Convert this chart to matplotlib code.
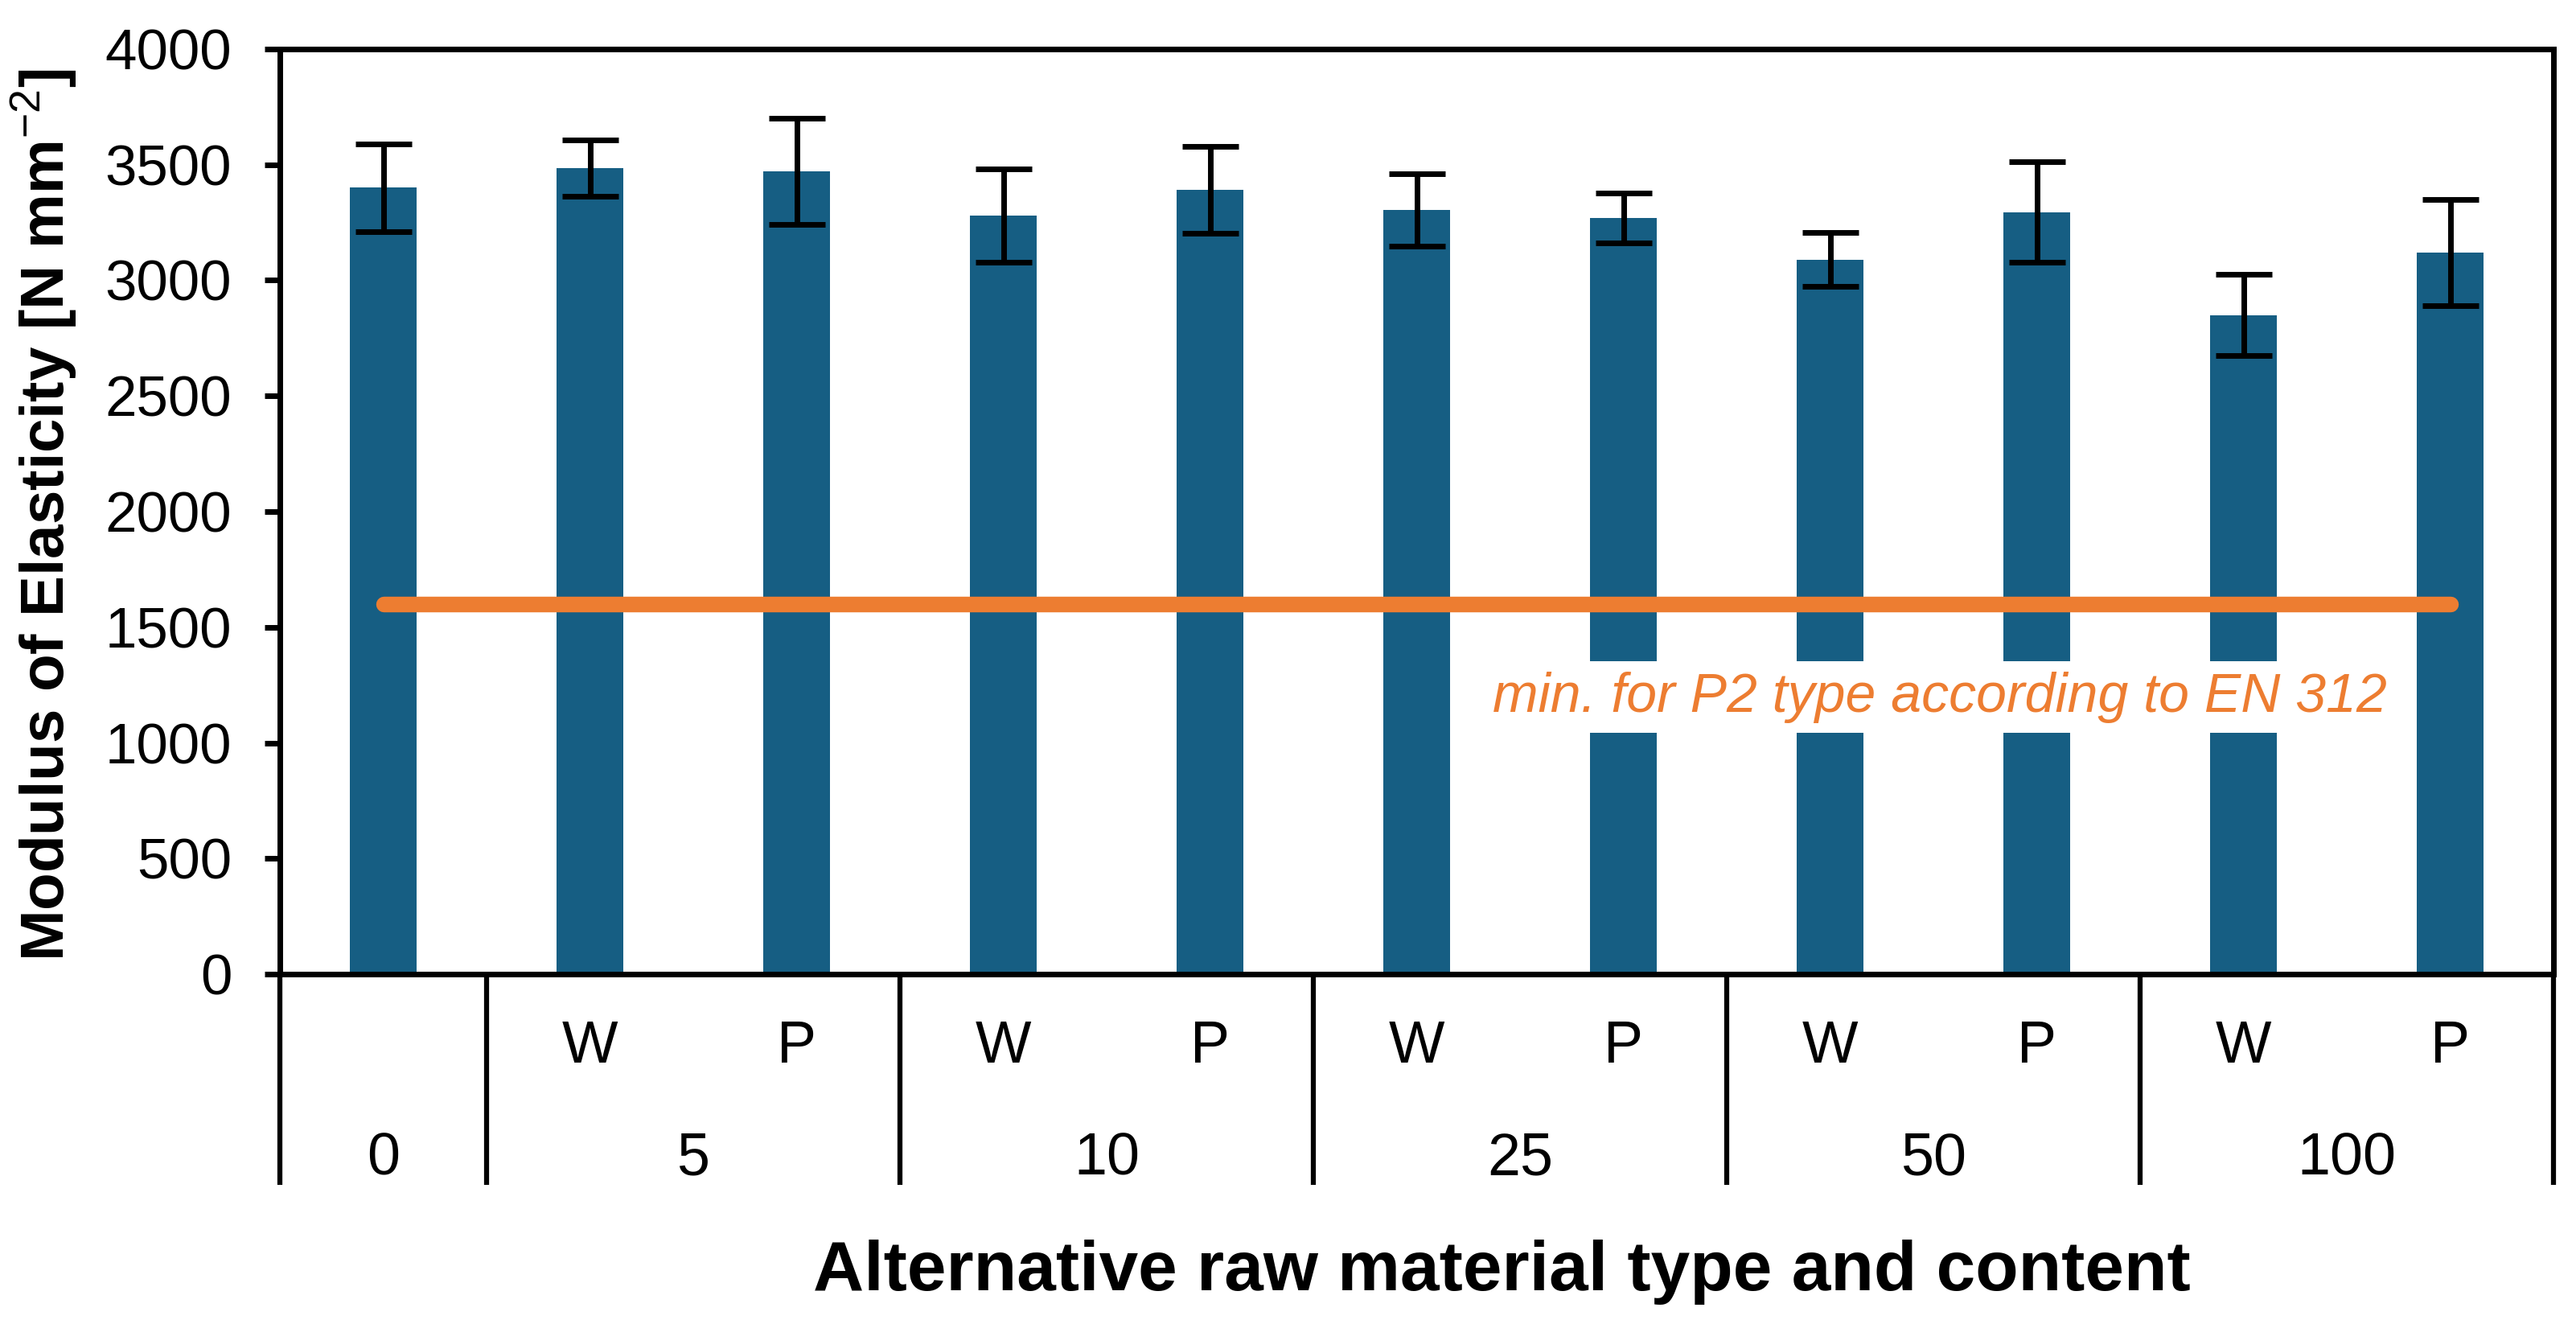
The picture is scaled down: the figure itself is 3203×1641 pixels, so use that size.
import matplotlib
matplotlib.use("Agg")
import matplotlib.pyplot as plt
import matplotlib.transforms as mtransforms

plt.rcParams['font.family'] = ['Liberation Sans', 'DejaVu Sans']
plt.rcParams['mathtext.fontset'] = 'custom'
plt.rcParams['mathtext.rm'] = 'Liberation Sans'
plt.rcParams['mathtext.bf'] = 'Liberation Sans:bold'

# ---- data ----
types = ["", "W", "P", "W", "P", "W", "P", "W", "P", "W", "P"]
contents = ["0", "5", "10", "25", "50", "100"]
group_sizes = [1, 2, 2, 2, 2, 2]
moe = [3400, 3485, 3470, 3280, 3390, 3305, 3268, 3090, 3295, 2850, 3120]
moe_err = [190, 123, 230, 203, 188, 157, 108, 116, 217, 176, 231]
en312_min = 1600
en312_label = "min. for P2 type according to EN 312"
yticks = [0, 500, 1000, 1500, 2000, 2500, 3000, 3500, 4000]

bar_color = "#165E83"
orange = "#ED7D31"

W, H = 3203, 1641
fig = plt.figure(figsize=(W / 100, H / 100), dpi=100)
ax_left, ax_right, ax_top, ax_bottom = 348, 3175, 61, 1211
ax = fig.add_axes([ax_left / W, 1 - ax_bottom / H,
                   (ax_right - ax_left) / W, (ax_bottom - ax_top) / H])

x = list(range(len(moe)))
ax.bar(x, moe, width=0.32, color=bar_color, zorder=2)
ax.errorbar(x, moe, yerr=moe_err, fmt='none', ecolor='black',
            elinewidth=5, capsize=25, capthick=5, zorder=4)

ax.plot([x[0], x[-1]], [en312_min, en312_min], color=orange, lw=14,
        solid_capstyle='round', zorder=3)

ax.text(7.53, 1198, en312_label, color=orange, fontsize=49, style='italic',
        ha='center', va='center', zorder=5,
        bbox=dict(boxstyle='square,pad=0.18', facecolor='white', edgecolor='none'))

ax.set_xlim(-0.5, len(moe) - 0.5)
ax.set_ylim(0, 4000)
ax.set_yticks(yticks)
ax.set_yticklabels([str(v) for v in yticks])
ax.tick_params(axis='y', labelsize=51, length=14, width=5, pad=29, direction='out')
ax.set_xticks([])
for s in ax.spines.values():
    s.set_linewidth(5)
    s.set_color('black')

# category table below the axis
trans = mtransforms.blended_transform_factory(ax.transData, ax.transAxes)
table_bottom = -0.228
bounds = [-0.5]
pos = -0.5
for g in group_sizes:
    pos += g
    bounds.append(pos)
for b in bounds:
    ax.plot([b, b], [0, table_bottom], color='black', lw=4.5,
            transform=trans, clip_on=False, solid_capstyle='butt')

for i, t in enumerate(types):
    if t:
        ax.text(i, -0.079, t, transform=trans, ha='center', va='center', fontsize=53)
for k, c in enumerate(contents):
    center = (bounds[k] + bounds[k + 1]) / 2
    ax.text(center, -0.200, c, transform=trans, ha='center', va='center', fontsize=53)

ax.text(0.5376, -0.322, "Alternative raw material type and content", transform=ax.transAxes,
        ha='center', va='center', fontsize=63, fontweight='bold')

fig.text(55 / W, 1 - 640 / H, r"Modulus of Elasticity [N mm$^{-2}$]", rotation=90,
         ha='center', va='center', fontsize=55, fontweight='bold')

fig.savefig("out.png", dpi=100)
